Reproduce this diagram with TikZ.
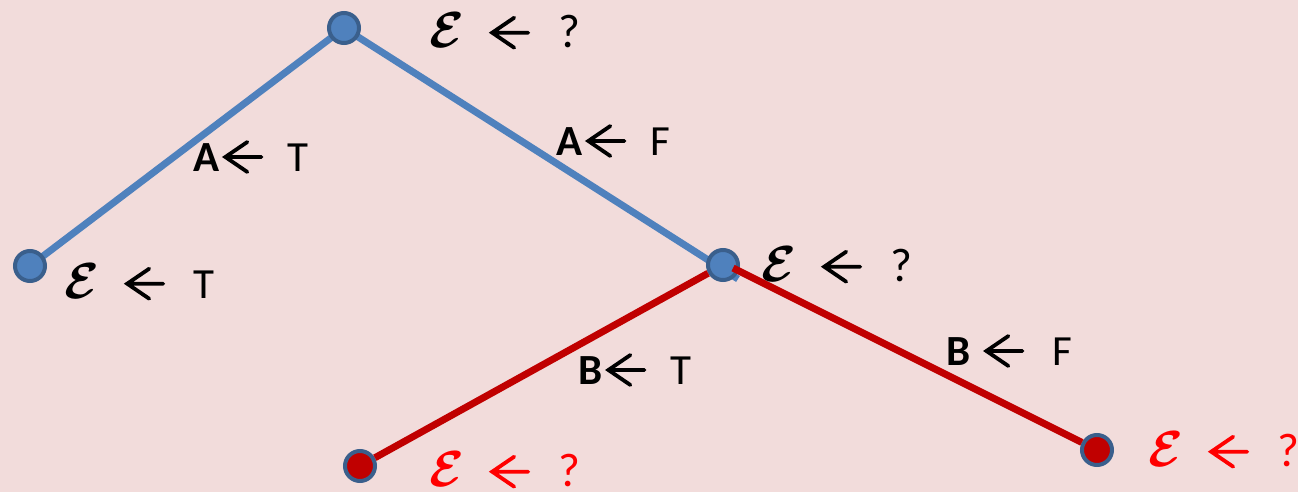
\documentclass[tikz,border=0pt]{standalone}
\usepackage{amsmath,amsbsy}
\usepackage{fontspec}
\setmainfont{Carlito}
\definecolor{bg}{HTML}{F2DCDB}
\definecolor{lblue}{HTML}{4F81BD}
\definecolor{dblue}{HTML}{3A5F8C}
\definecolor{dred}{HTML}{C00000}
\definecolor{bred}{HTML}{FF0000}
\newcommand{\myE}{\scalebox{1.22}{$\boldsymbol{\mathcal{E}}$}}
\newcommand{\myQ}{\scalebox{1.1}{?}}
\newcommand{\myarr}[1][black]{\tikz[baseline={(0pt,-7.2pt)}]\draw[#1,line width=1.9pt,line cap=round,line join=miter] (11pt,7.5pt) -- (0pt,0pt) -- (11pt,-7.5pt) (0pt,0pt) -- (18pt,0pt);}
\tikzset{
  dot/.style={circle,draw=dblue,line width=2pt,minimum size=15pt,inner sep=0pt},
  bluedot/.style={dot,fill=lblue},
  reddot/.style={dot,fill=dred},
  blueline/.style={lblue,line width=3.5pt},
  redline/.style={dred,line width=3.5pt},
  lbl/.style={anchor=west,inner sep=0pt,font=\fontsize{21.5}{24}\selectfont}
}
\begin{document}
\begin{tikzpicture}[x=0.5pt,y=-0.5pt]
\fill[bg] (0,0) rectangle (1298,492);
\useasboundingbox (0,0) rectangle (1298,492);
\coordinate (top) at (344,28);
\coordinate (left) at (30,266);
\coordinate (mid) at (723,265);
\coordinate (midend) at (738,279);
\coordinate (bl) at (360,466);
\coordinate (br) at (1097,450);
\draw[blueline] (top) -- (left);
\draw[blueline] (top) -- (midend);
\node[bluedot] (ntop) at (top) {};
\node[bluedot] (nleft) at (left) {};
\node[bluedot] (nmid) at (mid) {};
\node[reddot] (nbl) at (bl) {};
\node[reddot] (nbr) at (br) {};
\draw[redline] (nmid) -- (nbl);
\draw[redline] (nmid.center) ++(10,3) coordinate (rs) (rs) -- (nbr);
% labels
\node[lbl] (l1) at (429,31) {\myE\hspace{13pt}\myarr\hspace{14pt}\myQ};
\node[lbl] (l2) at (193,157) {\textbf{A}\hspace{2pt}\myarr\hspace{12pt}T};
\node[lbl] (l3) at (556,141) {\textbf{A}\hspace{2pt}\myarr\hspace{12pt}F};
\node[lbl] (l4) at (64,282) {\myE\hspace{13pt}\myarr\hspace{14pt}T};
\node[lbl] (l5) at (761,265) {\myE\hspace{13pt}\myarr\hspace{14pt}\myQ};
\node[lbl] (l6) at (578,370) {\textbf{B}\hspace{2pt}\myarr\hspace{12pt}T};
\node[lbl] (l7) at (946,351) {\textbf{B}\hspace{7pt}\myarr\hspace{14pt}F};
\node[lbl,text=bred] (l8) at (429,470) {\myE\hspace{13pt}\myarr[bred]\hspace{14pt}\myQ};
\node[lbl,text=bred] (l9) at (1148,450) {\myE\hspace{13pt}\myarr[bred]\hspace{14pt}\myQ};
\end{tikzpicture}
\end{document}
